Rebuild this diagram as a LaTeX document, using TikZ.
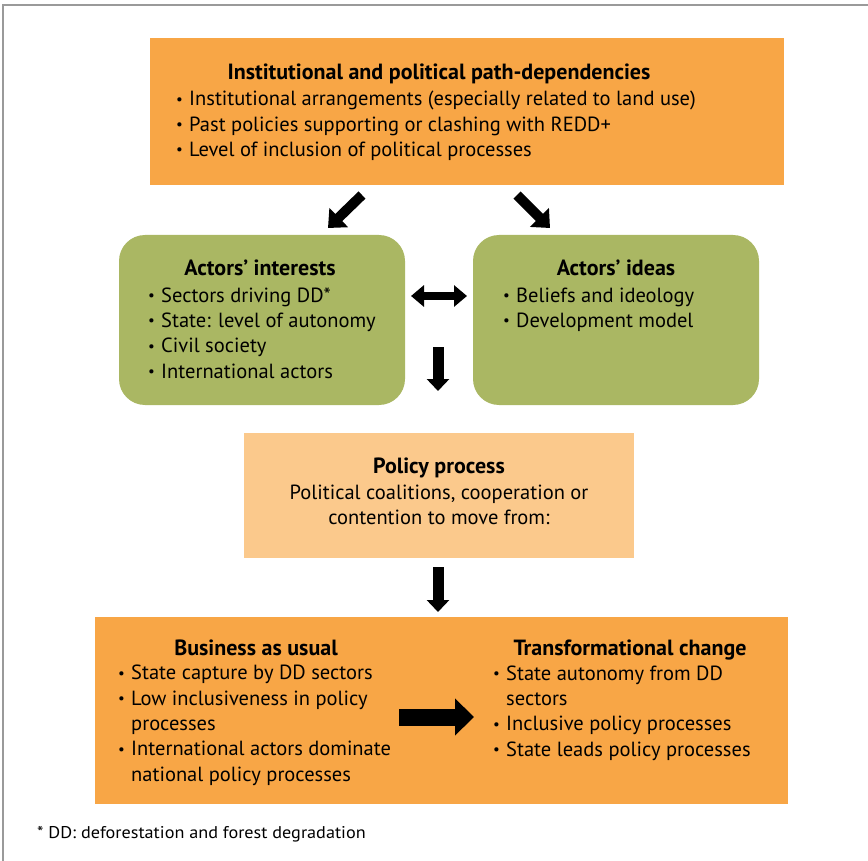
\documentclass[tikz,border=0pt]{standalone}
\usepackage{fontspec}
\setmainfont{PT Sans}
\usetikzlibrary{arrows.meta}
\definecolor{orangeA}{HTML}{F8A646}
\definecolor{greenA}{HTML}{AAB763}
\definecolor{orangeL}{HTML}{FBC98C}
\definecolor{frameG}{HTML}{9A9A9A}
\newcommand{\bul}{\makebox[13pt][l]{\raisebox{1.6pt}{\fontsize{15}{15}\selectfont •}}}
\newcommand{\ind}{\hspace*{13pt}}
\begin{document}
\begin{tikzpicture}[x=1pt,y=-1pt,
  panel/.style={inner sep=0pt, outer sep=0pt, anchor=north west},
  txt/.style={inner sep=0pt, anchor=base west, align=left, font=\fontsize{20.5}{25.3}\selectfont},
  ctxt/.style={inner sep=0pt, anchor=base, align=center, font=\fontsize{20.5}{25.3}\selectfont},
  ttl/.style={inner sep=0pt, anchor=base, font=\fontsize{22}{25.3}\selectfont\bfseries}
]
\useasboundingbox (0,0) rectangle (868,861);
\draw[frameG, line width=2pt] (3,861) -- (3,5) -- (868,5);

% boxes
\node[panel, fill=orangeA, minimum width=634pt, minimum height=147pt] (top) at (150,38) {};
\node[panel, fill=greenA, rounded corners=26pt, minimum width=286pt, minimum height=170pt] (interests) at (119,235) {};
\node[panel, fill=greenA, rounded corners=26pt, minimum width=286pt, minimum height=170pt] (ideas) at (473,235) {};
\node[panel, fill=orangeL, minimum width=390pt, minimum height=125pt] (policy) at (244,433) {};
\node[panel, fill=orangeA, minimum width=693pt, minimum height=187pt] (bottom) at (95,617) {};

% texts (base anchor = baseline of last line)
\node[ttl] (topT) at (439,80) {Institutional and political path-dependencies};
\node[txt] (topL) at (176,156.6) {\bul Institutional arrangements (especially related to land use)\\\bul Past policies supporting or clashing with REDD+\\\bul Level of inclusion of political processes};

\node[ttl] (intT) at (260,276) {Actors’ interests};
\node[txt] (intL) at (148,378) {\bul Sectors driving DD*\\\bul State: level of autonomy\\\bul Civil society\\\bul International actors};

\node[ttl] (ideT) at (616,276) {Actors’ ideas};
\node[txt] (ideL) at (503,327.3) {\bul Beliefs and ideology\\\bul Development model};

\node[ttl] (polT) at (439,473) {Policy process};
\node[ctxt] (polL) at (439,524.3) {Political coalitions, cooperation or\\contention to move from:};

\node[ttl] (busT) at (256,655) {Business as usual};
\node[txt] (busL) at (118,781) {\bul State capture by DD sectors\\\bul Low inclusiveness in policy\\\ind processes\\\bul International actors dominate\\\ind national policy processes};

\node[ttl] (traT) at (630,655) {Transformational change};
\node[txt] (traL) at (493,756) {\bul State autonomy from DD\\\ind sectors\\\bul Inclusive policy processes\\\bul State leads policy processes};

\node[inner sep=0pt, anchor=base west, font=\fontsize{17}{18}\selectfont] (foot) at (37,838) {\scalebox{1.07}[1]{* DD: deforestation and forest degradation}};

% arrow end points
\coordinate (a1s) at (362,195); \coordinate (a1e) at (328,228);
\coordinate (a2s) at (517,195); \coordinate (a2e) at (550,228);
\coordinate (a3s) at (411,296); \coordinate (a3e) at (467,296);
\coordinate (a4s) at (438,347); \coordinate (a4e) at (438,391);
\coordinate (a5s) at (438,567); \coordinate (a5e) at (438,612);
\coordinate (a6s) at (399,717); \coordinate (a6e) at (474,717);

\draw[line width=10pt, -{Triangle[width=26pt,length=15pt]}] (a1s) -- (a1e);
\draw[line width=10pt, -{Triangle[width=26pt,length=15pt]}] (a2s) -- (a2e);
\draw[line width=8pt, {Triangle[width=21pt,length=13pt]}-{Triangle[width=21pt,length=13pt]}] (a3s) -- (a3e);
\draw[line width=11pt, -{Triangle[width=22pt,length=12pt]}] (a4s) -- (a4e);
\draw[line width=11pt, -{Triangle[width=22pt,length=12pt]}] (a5s) -- (a5e);
\draw[line width=17pt, -{Triangle[width=36pt,length=19pt]}] (a6s) -- (a6e);
\end{tikzpicture}
\end{document}
